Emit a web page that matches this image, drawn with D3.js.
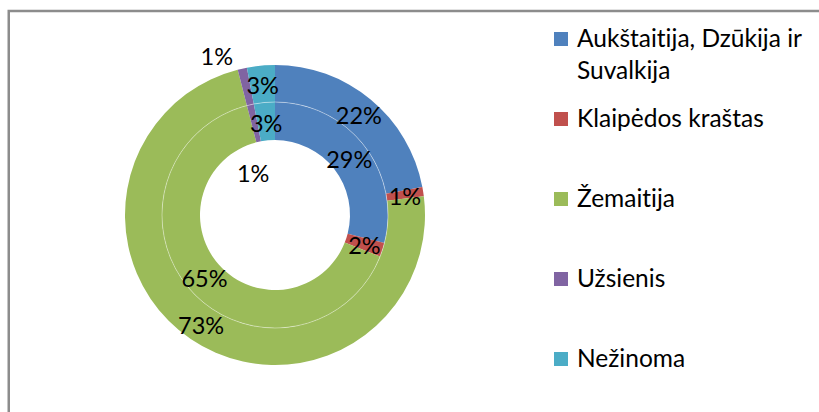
<!DOCTYPE html>
<html>
<head>
<meta charset="utf-8">
<script src="https://cdn.jsdelivr.net/npm/d3@7"></script>
<style>
  html, body { margin: 0; padding: 0; background: #fff; }
  svg { display: block; }
  text { font-variant-ligatures: none; font-feature-settings: "liga" 0, "clig" 0; }
</style>
</head>
<body>
<svg id="canvas" width="819" height="412"></svg>
<script>
(function() {
    // chart data
    var categories = ["Aukštaitija, Dzūkija ir Suvalkija", "Klaipėdos kraštas", "Žemaitija", "Užsienis", "Nežinoma"];
    var outerValues = [22, 1, 73, 1, 3];
    var innerValues = [29, 2, 65, 1, 3];
    var colors = ["#4F81BD", "#C0504D", "#9BBB59", "#8064A2", "#4BACC6"];

    var width = 819, height = 412;
    var cx = 275, cy = 215;
    var font = "Lato, 'Open Sans', sans-serif";

    var svg = d3.select("#canvas");

    // frame of the chart area (runs past right and bottom edge)
    svg.append("rect")
        .attr("x", 8.75).attr("y", 11)
        .attr("width", 900).attr("height", 500)
        .attr("fill", "none")
        .attr("stroke", "#8c8c8c")
        .attr("stroke-width", 2.5);

    var color = d3.scaleOrdinal().domain(categories).range(colors);

    var pie = d3.pie().sort(null).value(function(d) { return d.value; });

    var rings = [
        { name: "inner", values: innerValues, r0: 75, r1: 113 },
        { name: "outer", values: outerValues, r0: 113, r1: 150 }
    ];

    var g = svg.append("g").attr("transform", "translate(" + cx + "," + cy + ")");

    rings.forEach(function(ring) {
        var arcs = pie(ring.values.map(function(v, i) { return { cat: categories[i], value: v }; }));
        var arc = d3.arc().innerRadius(ring.r0).outerRadius(ring.r1);
        ring.arcs = arcs;
        ring.arc = arc;

        g.append("g").attr("class", ring.name)
          .selectAll("path")
          .data(arcs)
          .join("path")
            .attr("d", arc)
            .attr("fill", function(d) { return color(d.data.cat); });
    });

    // faint white line between the two rings
    g.append("circle")
        .attr("r", 113)
        .attr("fill", "none")
        .attr("stroke", "#fff")
        .attr("stroke-opacity", 0.4)
        .attr("stroke-width", 1);

    // labels: centroid of each segment, the tiny purple ones are pushed aside
    rings.forEach(function(ring) {
        g.append("g")
          .selectAll("text")
          .data(ring.arcs)
          .join("text")
            .attr("transform", function(d, i) {
                var p = ring.arc.centroid(d);
                if (i === 3) {
                    var a, r;
                    if (ring.name === "outer") { a = -20 * Math.PI / 180; r = 170; }
                    else { a = -27 * Math.PI / 180; r = 48; }
                    p = [r * Math.sin(a), -r * Math.cos(a)];
                }
                return "translate(" + p[0] + "," + (p[1] + 2) + ")";
            })
            .attr("dy", "0.35em")
            .attr("text-anchor", "middle")
            .style("font-family", font)
            .style("font-size", "23.5px")
            .attr("fill", "#000")
            .text(function(d) { return d.data.value + "%"; });
    });

    // legend
    var ly = d3.scalePoint().domain(categories).range([39, 359]);
    var legend = svg.append("g").attr("class", "legend");

    var items = legend.selectAll("g")
        .data(categories)
        .join("g")
        .attr("transform", function(d) { return "translate(554," + ly(d) + ")"; });

    items.append("rect")
        .attr("x", 0).attr("y", -7)
        .attr("width", 14).attr("height", 14)
        .attr("fill", function(d) { return color(d); });

    items.append("text")
        .attr("x", 23).attr("y", 8)
        .style("font-family", font)
        .style("font-size", "24.5px")
        .attr("fill", "#000")
        .each(function(d) {
            // simple word wrap to the space right of the marker
            var el = d3.select(this), words = d.split(" "), line = [];
            var maxW = width - 577 - 2;
            var tspan = el.append("tspan").attr("x", 23).attr("dy", 0);
            words.forEach(function(w) {
                line.push(w);
                tspan.text(line.join(" "));
                if (tspan.node().getComputedTextLength() > maxW && line.length > 1) {
                    line.pop();
                    tspan.text(line.join(" "));
                    line = [w];
                    tspan = el.append("tspan").attr("x", 23).attr("dy", 32).text(w);
                }
            });
        });
})();
</script>
</body>
</html>
